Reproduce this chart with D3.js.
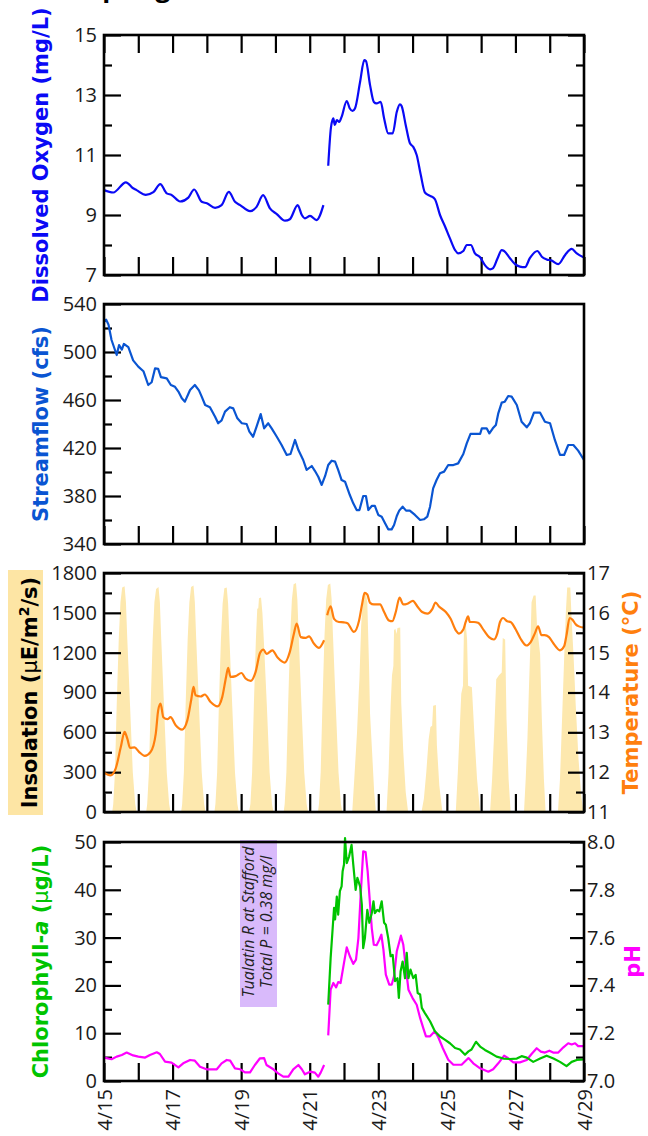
<!DOCTYPE html>
<html><head><meta charset="utf-8">
<script src="https://cdn.jsdelivr.net/npm/d3@7"></script>
<style>
body{margin:0;background:#fff;}
svg{display:block;font-family:"Open Sans",sans-serif;}
</style></head><body>
<svg id="chart" width="648" height="1136"></svg>
<script>
// ---------- data (x = days since 4/15 00:00) ----------
const dayTicks = [0,1,2,3,4,5,6,7,8,9,10,11,12,13,14];
const labelDays = [0,2,4,6,8,10,12,14];
const dateLabels = ["4/15","4/17","4/19","4/21","4/23","4/25","4/27","4/29"];

const doTicks = [7,9,11,13,15];
const doMinor = [8,10,12,14];
const flowTicks = [340,380,420,460,500,540];
const flowMinor = [360,400,440,480,520];
const insolTicks = [0,300,600,900,1200,1500,1800];
const insolMinor = [150,450,750,1050,1350,1650];
const tempTicks = [11,12,13,14,15,16,17];
const tempMinor = [11.5,12.5,13.5,14.5,15.5,16.5];
const chlTicks = [0,10,20,30,40,50];
const chlMinor = [5,15,25,35,45];
const phTicks = [7.0,7.2,7.4,7.6,7.8,8.0];
const phMinor = [7.1,7.3,7.5,7.7,7.9];

const dissolvedOxygen = [
 [0,9.83],[0.27,9.75],[0.64,10.09],[0.85,9.89],[0.95,9.83],[1.22,9.67],[1.44,9.76],[1.64,10.03],
 [1.83,9.72],[1.97,9.67],[2.22,9.45],[2.46,9.58],[2.63,9.85],[2.85,9.44],[3.0,9.39],[3.24,9.24],
 [3.43,9.33],[3.64,9.77],[3.82,9.44],[3.97,9.33],[4.26,9.13],[4.45,9.27],[4.64,9.66],[4.84,9.22],
 [5.04,9.03],[5.28,8.81],[5.42,8.86],[5.65,9.33],[5.77,9.0],[5.86,8.89],[6.01,8.97],[6.2,8.83],
 [6.4,9.33],[6.47,null],
 [6.54,10.64],[6.62,11.92],[6.69,12.22],[6.73,12.0],[6.79,12.16],[6.86,12.1],[6.93,12.27],[7.08,12.8],
 [7.17,12.55],[7.25,12.47],[7.32,12.55],[7.47,13.44],[7.59,14.16],[7.64,14.13],[7.76,13.33],[7.87,12.77],
 [7.95,12.72],[8.07,12.77],[8.17,12.22],[8.29,11.72],[8.42,11.72],[8.54,12.44],[8.63,12.69],[8.68,12.63],
 [8.81,11.94],[8.92,11.4],[9.02,11.27],[9.12,11.0],[9.24,10.33],[9.36,9.75],[9.51,9.64],[9.65,9.53],
 [9.8,9.0],[9.95,8.61],[10.09,8.22],[10.24,7.83],[10.33,7.72],[10.48,7.8],[10.58,8.0],[10.7,8.0],
 [10.82,7.72],[10.97,7.59],[11.11,7.33],[11.26,7.19],[11.35,7.23],[11.48,7.56],[11.6,7.83],[11.67,7.8],
 [11.84,7.56],[11.99,7.36],[12.13,7.28],[12.28,7.26],[12.42,7.56],[12.64,7.8],[12.77,7.61],[12.91,7.52],
 [13.06,7.48],[13.25,7.36],[13.45,7.67],[13.64,7.87],[13.79,7.72],[14.0,7.58]
];

const streamflow = [
 [0,525],[0.06,527],[0.13,523],[0.22,510],[0.37,497.5],[0.44,505.8],[0.52,502],[0.58,506.7],[0.71,504],
 [0.85,493],[1.0,487.8],[1.15,484],[1.29,472.5],[1.39,474.8],[1.49,486.4],[1.58,486],[1.66,479],[1.83,478],
 [1.95,472.5],[2.07,471],[2.17,467],[2.27,461.4],[2.36,458.6],[2.51,468.3],[2.65,472.5],[2.77,468],
 [2.85,462.8],[2.95,455.8],[3.09,454],[3.24,446],[3.33,440.6],[3.43,443],[3.53,450.3],[3.67,454],
 [3.77,453],[3.89,444.7],[4.02,440.6],[4.16,440],[4.24,433.6],[4.35,429.4],[4.45,437.8],[4.57,448.3],
 [4.67,436.4],[4.79,440.6],[4.89,436.4],[5.04,429.4],[5.18,422.5],[5.33,414.2],[5.44,415],[5.57,426.7],
 [5.67,418.3],[5.81,410],[5.91,401.7],[6.06,405],[6.15,401],[6.25,396],[6.35,389.2],[6.45,396.7],
 [6.54,405.8],[6.64,409.4],[6.74,408.6],[6.83,401.7],[6.93,393.3],[7.03,391.9],[7.17,380.8],[7.27,373.9],
 [7.37,368.3],[7.45,368.3],[7.56,380],[7.64,380],[7.71,368.3],[7.81,371.7],[7.9,371.7],[8.0,364.2],
 [8.1,362.8],[8.19,357.8],[8.29,352.2],[8.39,352.2],[8.46,355.8],[8.54,363.3],[8.61,367.8],[8.71,371.1],
 [8.81,367.8],[8.92,367.8],[9.07,364.2],[9.22,360],[9.33,360.6],[9.43,362.8],[9.51,371.1],[9.6,386.4],
 [9.7,393.3],[9.8,398.9],[9.92,400.3],[10.04,405.8],[10.19,405.8],[10.33,407.2],[10.48,415],[10.58,423.9],
 [10.69,431.7],[10.82,431.7],[10.97,431.7],[11.02,436.4],[11.16,436.4],[11.24,432.2],[11.34,436.4],
 [11.43,439.2],[11.5,448.9],[11.6,457.8],[11.69,458.6],[11.79,463.3],[11.89,462.8],[12.04,455.8],
 [12.18,441.9],[12.33,437.2],[12.42,440.6],[12.54,449.4],[12.72,449.4],[12.86,441.9],[13.01,440.6],
 [13.15,426.7],[13.3,414.2],[13.42,414.2],[13.54,422.5],[13.69,422.5],[13.83,417.8],[14.0,410]
];

const insolation = [
 [0,0],
 [0.24,0],[0.27,60],[0.32,300],[0.37,800],[0.43,1300],[0.48,1580],[0.53,1690],[0.60,1700],[0.64,1580],[0.68,1300],[0.76,800],[0.84,300],[0.91,60],[0.95,0],
 [1.23,0],[1.26,60],[1.31,300],[1.36,800],[1.42,1300],[1.47,1580],[1.52,1680],[1.59,1695],[1.63,1580],[1.67,1300],[1.75,800],[1.83,300],[1.90,60],[1.94,0],
 [2.25,0],[2.28,60],[2.33,300],[2.38,800],[2.44,1300],[2.49,1580],[2.54,1695],[2.61,1705],[2.65,1580],[2.69,1300],[2.77,800],[2.85,300],[2.92,60],[2.96,0],
 [3.22,0],[3.25,60],[3.30,300],[3.35,800],[3.41,1300],[3.46,1570],[3.51,1685],[3.58,1690],[3.62,1570],[3.66,1300],[3.74,800],[3.82,300],[3.89,60],[3.93,0],
 [4.23,0],[4.27,60],[4.32,300],[4.37,800],[4.43,1300],[4.47,1530],[4.50,1535],[4.52,1610],[4.58,1615],[4.62,1500],[4.67,1250],[4.75,800],[4.83,300],[4.90,60],[4.94,0],
 [5.24,0],[5.27,60],[5.32,300],[5.37,800],[5.43,1320],[5.48,1600],[5.53,1715],[5.60,1724],[5.64,1600],[5.68,1320],[5.76,800],[5.84,300],[5.91,60],[5.95,0],
 [6.24,0],[6.27,60],[6.32,300],[6.37,800],[6.43,1320],[6.48,1600],[6.53,1710],[6.60,1720],[6.64,1600],[6.68,1320],[6.76,800],[6.84,300],[6.91,60],[6.95,0],
 [7.24,0],[7.30,250],[7.38,600],[7.43,900],[7.45,1000],[7.50,1400],[7.56,1650],[7.63,1660],[7.68,1580],[7.73,1100],[7.76,740],[7.82,450],[7.88,150],[7.93,0],
 [8.24,0],[8.30,300],[8.36,800],[8.40,1030],[8.44,1100],[8.46,1370],[8.50,1380],[8.53,1340],[8.56,1385],[8.64,1390],[8.67,820],[8.73,450],[8.80,150],[8.87,0],
 [9.26,0],[9.33,100],[9.40,300],[9.47,550],[9.52,640],[9.57,650],[9.60,800],[9.68,805],[9.71,500],[9.78,200],[9.87,0],
 [10.26,0],[10.32,300],[10.38,650],[10.42,890],[10.47,950],[10.50,1400],[10.55,1420],[10.59,1300],[10.62,950],[10.73,940],[10.80,600],[10.88,250],[10.97,0],
 [11.26,0],[11.32,250],[11.38,600],[11.44,1000],[11.52,1030],[11.60,1050],[11.63,1310],[11.70,1300],[11.74,700],[11.80,250],[11.86,0],
 [12.25,0],[12.30,250],[12.35,550],[12.39,900],[12.44,1300],[12.47,1580],[12.53,1630],[12.59,1630],[12.63,1400],[12.72,1190],[12.77,700],[12.83,250],[12.88,0],
 [13.24,0],[13.30,250],[13.36,700],[13.42,1150],[13.47,1500],[13.51,1690],[13.60,1690],[13.64,1450],[13.70,1150],[13.76,800],[13.84,400],[13.92,120],[13.98,0],
 [14,0]
];

const temperature = [
 [0,11.99],[0.19,11.92],[0.34,12.09],[0.49,12.63],[0.60,13.01],[0.68,12.84],[0.76,12.61],[0.89,12.62],
 [1.02,12.51],[1.19,12.41],[1.36,12.51],[1.51,12.97],[1.58,13.55],[1.65,13.72],[1.73,13.38],[1.85,13.33],
 [1.94,13.38],[2.09,13.18],[2.28,13.07],[2.43,13.30],[2.55,13.85],[2.61,14.14],[2.67,13.93],[2.82,13.90],
 [2.94,13.95],[3.11,13.76],[3.31,13.65],[3.45,13.89],[3.56,14.39],[3.62,14.62],[3.69,14.39],[3.84,14.41],
 [4.01,14.49],[4.13,14.35],[4.28,14.29],[4.42,14.51],[4.55,14.99],[4.65,15.08],[4.74,14.97],[4.91,15.06],
 [5.07,14.87],[5.27,14.75],[5.42,15.02],[5.54,15.48],[5.62,15.73],[5.74,15.39],[5.88,15.37],[5.98,15.41],
 [6.12,15.23],[6.27,15.12],[6.42,15.31],[6.46,null],
 [6.51,15.94],[6.61,16.16],[6.71,15.85],[6.85,15.77],[7.0,15.76],[7.10,15.74],[7.29,15.52],[7.44,15.81],
 [7.53,16.23],[7.60,16.50],[7.68,16.46],[7.76,16.25],[7.87,16.21],[8.05,16.21],[8.17,16.02],[8.31,15.81],
 [8.41,15.79],[8.51,16.02],[8.62,16.38],[8.73,16.21],[8.85,16.23],[9.01,16.30],[9.14,16.16],[9.28,16.02],
 [9.43,15.98],[9.58,16.10],[9.67,16.26],[9.77,16.16],[9.97,16.02],[10.11,15.85],[10.26,15.56],[10.35,15.48],
 [10.48,15.58],[10.55,15.77],[10.62,15.91],[10.67,15.77],[10.79,15.77],[10.91,15.75],[11.08,15.56],
 [11.23,15.39],[11.37,15.33],[11.47,15.48],[11.55,15.77],[11.64,15.87],[11.76,15.79],[11.86,15.77],
 [12.01,15.58],[12.15,15.35],[12.32,15.18],[12.44,15.26],[12.57,15.49],[12.66,15.66],[12.76,15.44],
 [12.85,15.44],[12.98,15.39],[13.11,15.23],[13.30,15.06],[13.42,15.16],[13.49,15.44],[13.58,15.87],
 [13.66,15.83],[13.76,15.71],[13.85,15.66],[14.0,15.63]
];

const chlorophyll = [
 [6.54,15.97],[6.61,25.7],[6.67,32.0],[6.71,36.2],[6.74,33.8],[6.79,38.6],[6.83,34.8],[6.88,39.7],
 [6.93,40.7],[6.96,43.9],[7.0,45.3],[7.03,50.8],[7.08,45.6],[7.15,47.0],[7.22,49.4],[7.27,45.3],
 [7.34,40.0],[7.39,42.5],[7.47,40.7],[7.52,36.9],[7.56,27.8],[7.61,29.9],[7.68,35.8],[7.74,33.1],
 [7.81,35.1],[7.86,37.6],[7.9,35.1],[7.97,35.8],[8.03,35.5],[8.1,37.6],[8.17,33.1],[8.22,32.7],
 [8.29,29.9],[8.36,26.1],[8.42,26.4],[8.49,20.9],[8.56,21.5],[8.6,17.4],[8.65,22.9],[8.71,25.0],
 [8.78,21.5],[8.83,26.8],[8.88,21.5],[8.94,23.3],[9.02,21.5],[9.09,22.2],[9.15,18.4],[9.22,18.1],
 [9.27,15.3],[9.36,14.2],[9.51,12.5],[9.65,10.4],[9.8,9.3],[9.95,8.6],[10.09,7.9],[10.24,6.9],
 [10.38,6.6],[10.53,5.5],[10.63,6.2],[10.72,6.6],[10.85,8.2],[10.97,7.2],[11.11,6.5],[11.26,5.9],
 [11.45,5.1],[11.65,4.7],[11.84,4.6],[12.04,4.7],[12.18,5.2],[12.33,4.9],[12.52,4.0],[12.72,4.7],
 [12.91,5.3],[13.11,4.7],[13.3,4.0],[13.49,3.1],[13.64,4.0],[13.79,4.4],[14.0,4.5]
];

const pH = [
 [0,7.098],[0.22,7.091],[0.37,7.102],[0.52,7.109],[0.66,7.119],[0.85,7.107],[1.0,7.102],[1.2,7.098],
 [1.34,7.109],[1.54,7.12],[1.63,7.113],[1.78,7.081],[1.97,7.077],[2.17,7.057],[2.31,7.074],[2.51,7.088],
 [2.65,7.085],[2.8,7.06],[2.99,7.049],[3.29,7.049],[3.43,7.074],[3.58,7.088],[3.68,7.085],[3.82,7.053],
 [3.97,7.049],[4.11,7.036],[4.26,7.036],[4.4,7.067],[4.55,7.095],[4.67,7.096],[4.74,7.067],[4.94,7.049],
 [5.08,7.032],[5.23,7.018],[5.38,7.018],[5.52,7.049],[5.67,7.067],[5.77,7.049],[5.86,7.028],[6.01,7.039],
 [6.15,7.035],[6.25,7.018],[6.32,7.035],[6.42,7.067],[6.48,null],
 [6.54,7.191],[6.61,7.382],[6.69,7.41],[6.77,7.392],[6.83,7.414],[6.9,7.41],[7.0,7.494],[7.08,7.559],
 [7.17,7.522],[7.27,7.49],[7.35,7.508],[7.42,7.598],[7.49,7.787],[7.56,7.961],[7.63,7.958],[7.69,7.877],
 [7.76,7.738],[7.81,7.64],[7.87,7.57],[7.95,7.568],[8.03,7.591],[8.09,7.612],[8.15,7.55],[8.22,7.445],
 [8.32,7.403],[8.39,7.403],[8.46,7.438],[8.54,7.543],[8.66,7.608],[8.73,7.57],[8.81,7.466],[8.88,7.382],
 [9.0,7.347],[9.12,7.319],[9.22,7.264],[9.31,7.222],[9.39,7.187],[9.51,7.187],[9.65,7.208],[9.75,7.183],
 [9.88,7.138],[10.04,7.089],[10.19,7.068],[10.43,7.068],[10.63,7.096],[10.77,7.074],[10.97,7.053],
 [11.21,7.039],[11.35,7.049],[11.5,7.074],[11.67,7.106],[11.79,7.095],[11.94,7.078],[12.13,7.078],
 [12.33,7.088],[12.47,7.113],[12.62,7.137],[12.74,7.123],[12.86,7.119],[12.99,7.127],[13.1,7.119],
 [13.25,7.119],[13.4,7.141],[13.54,7.158],[13.64,7.153],[13.74,7.158],[13.83,7.146],[14.0,7.146]
];

// ---------- layout ----------
const svg = d3.select("#chart");
const L = 104, R = 584;
const x = d3.scaleLinear().domain([0,14]).range([L,R]);
const P1 = [35,275], P2 = [304,544], P3 = [573,812], P4 = [842,1081];

const yDO = d3.scaleLinear().domain([7,15]).range([P1[1],P1[0]]);
const yFlow = d3.scaleLinear().domain([340,540]).range([P2[1],P2[0]]);
const yIns = d3.scaleLinear().domain([0,1800]).range([P3[1],P3[0]]);
const yTemp = d3.scaleLinear().domain([11,17]).range([P3[1],P3[0]]);
const yChl = d3.scaleLinear().domain([0,50]).range([P4[1],P4[0]]);
const yPH = d3.scaleLinear().domain([7,8]).range([P4[1],P4[0]]);

const TXT = "#1a1a1a";
const TITLE_FONT = "'DejaVu Sans', sans-serif";

// title (mostly above the top edge, as in the reference)
svg.append("text").attr("x",88).attr("y",-3).attr("font-size",26).attr("font-weight","bold")
  .attr("fill","#000").text("Spring Bloom");

function styleAxis(g){
  g.select(".domain").remove();
  g.attr("font-family",null).attr("font-size",20);
  g.selectAll(".tick line").attr("stroke","#000").attr("stroke-width",2.2);
  g.selectAll(".tick text").attr("fill",TXT);
}
function leftAxis(scale, major, minor, fmt, labels=true){
  svg.append("g").attr("transform",`translate(${L},0)`)
    .call(d3.axisLeft(scale).tickValues(major).tickSize(-17).tickPadding(7)
      .tickFormat(labels ? (fmt || (d=>d)) : ""))
    .call(styleAxis);
  svg.append("g").attr("transform",`translate(${L},0)`)
    .call(d3.axisLeft(scale).tickValues(minor).tickSize(-8).tickFormat(""))
    .call(styleAxis);
}
function rightAxis(scale, major, minor, fmt, labels=true, majorLen=16){
  svg.append("g").attr("transform",`translate(${R},0)`)
    .call(d3.axisRight(scale).tickValues(major).tickSize(-majorLen).tickPadding(3)
      .tickFormat(labels ? (fmt || (d=>d)) : ""))
    .call(styleAxis);
  svg.append("g").attr("transform",`translate(${R},0)`)
    .call(d3.axisRight(scale).tickValues(minor).tickSize(-8).tickFormat(""))
    .call(styleAxis);
}
function bottomTicks(P){
  svg.append("g").attr("transform",`translate(0,${P[1]})`)
    .call(d3.axisBottom(x).tickValues(dayTicks).tickSize(-18).tickFormat(""))
    .call(styleAxis);
}
function topTicks(P){
  svg.append("g").attr("transform",`translate(0,${P[0]})`)
    .call(d3.axisTop(x).tickValues(dayTicks).tickSize(-18).tickFormat(""))
    .call(styleAxis);
}
function frame(P){
  svg.append("rect").attr("x",L).attr("y",P[0]).attr("width",R-L).attr("height",P[1]-P[0])
    .attr("fill","none").attr("stroke","#000").attr("stroke-width",2.6);
}
function drawLine(data, y, color, curve=d3.curveLinear, w=2.2){
  svg.append("path").datum(data)
    .attr("fill","none").attr("stroke",color).attr("stroke-width",w)
    .attr("stroke-linejoin","round")
    .attr("d", d3.line().defined(d=>d[1]!==null).curve(curve).x(d=>x(d[0])).y(d=>y(d[1])));
}
function yLabel(xPos, P, build, size=21){
  const t = svg.append("text")
    .attr("transform",`translate(${xPos},${(P[0]+P[1])/2}) rotate(-90)`)
    .attr("text-anchor","middle").attr("font-size",size).attr("font-weight","bold")
    .attr("font-family",TITLE_FONT);
  build(t);
  return t;
}

// ----- Panel 1: Dissolved oxygen -----
leftAxis(yDO, doTicks, doMinor);
rightAxis(yDO, doTicks, doMinor, null, false);
topTicks(P1); bottomTicks(P1);
drawLine(dissolvedOxygen, yDO, "#0a0af5", d3.curveMonotoneX);
frame(P1);
yLabel(48, P1, t=>t.attr("fill","#0a0af5").text("Dissolved Oxygen (mg/L)"));

// ----- Panel 2: Streamflow -----
leftAxis(yFlow, flowTicks, flowMinor);
bottomTicks(P2);
drawLine(streamflow, yFlow, "#0a55d2");
frame(P2);
yLabel(48, P2, t=>t.attr("fill","#0a55d2").text("Streamflow (cfs)"));

// ----- Panel 3: Insolation + temperature -----
svg.append("path").datum(insolation)
  .attr("fill","#fde8ae").attr("stroke","none")
  .attr("d", d3.area().x(d=>x(d[0])).y0(yIns(0)).y1(d=>yIns(d[1])));
leftAxis(yIns, insolTicks, insolMinor);
rightAxis(yTemp, tempTicks, tempMinor);
bottomTicks(P3);
drawLine(temperature, yTemp, "#ff7f0e", d3.curveMonotoneX);
frame(P3);
svg.append("rect").attr("x",8).attr("y",570).attr("width",35).attr("height",245).attr("fill","#fde5a4");
yLabel(37, P3, t=>{
  t.attr("fill","#000");
  t.append("tspan").text("Insolation (");
  t.append("tspan").attr("font-weight","normal").text("μ");
  t.append("tspan").text("E/m");
  t.append("tspan").attr("dy",-8).attr("font-size",14).text("2");
  t.append("tspan").attr("dy",8).text("/s)");
});
yLabel(638, P3, t=>t.attr("fill","#ff7f0e").text("Temperature (°C)"));

// ----- Panel 4: Chlorophyll + pH -----
svg.append("rect").attr("x",240).attr("y",840).attr("width",37).attr("height",167).attr("fill","#d9bafb");
svg.append("text").attr("transform","translate(254,922) rotate(-90)").attr("text-anchor","middle")
  .attr("font-size",16).attr("font-style","italic").attr("fill","#222").text("Tualatin R at Stafford");
svg.append("text").attr("transform","translate(272,922) rotate(-90)").attr("text-anchor","middle")
  .attr("font-size",16).attr("font-style","italic").attr("fill","#222").text("Total P = 0.38  mg/l");
leftAxis(yChl, chlTicks, chlMinor);
rightAxis(yPH, phTicks, phMinor, d3.format(".1f"), true, 14);
bottomTicks(P4);
drawLine(pH, yPH, "#ff00ff");
drawLine(chlorophyll, yChl, "#00c400");
frame(P4);
yLabel(48, P4, t=>{
  t.attr("fill","#00c400");
  t.append("tspan").text("Chlorophyll-");
  t.append("tspan").attr("font-style","italic").text("a");
  t.append("tspan").text(" (");
  t.append("tspan").attr("font-weight","normal").text("μ");
  t.append("tspan").text("g/L)");
});
yLabel(640, P4, t=>t.attr("fill","#ff00ff").text("pH"));

// x-axis date labels (rotated)
const xl = svg.append("g").attr("transform",`translate(0,${P4[1]})`)
  .call(d3.axisBottom(x).tickValues(labelDays).tickSize(0)
    .tickFormat((d,i)=>dateLabels[i]))
  .call(styleAxis);
xl.selectAll(".tick text")
  .attr("transform","rotate(-90)").attr("text-anchor","end")
  .attr("x",-8).attr("y",0).attr("dy","0.36em");
</script>
</body></html>
